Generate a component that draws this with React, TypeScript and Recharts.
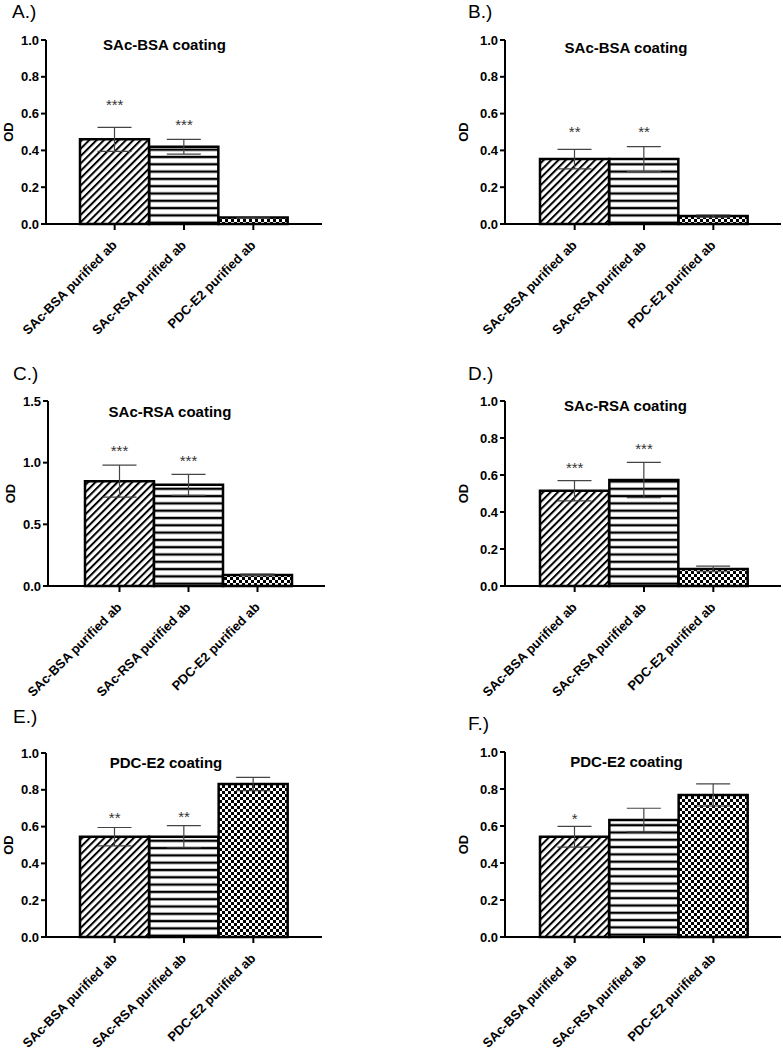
import React from "react";
import { Bar, Cell, ComposedChart, ErrorBar, Line, XAxis, YAxis } from "recharts";

const FONT = "'Liberation Sans', Arial, Helvetica, sans-serif";

const categories = ["SAc-BSA purified ab", "SAc-RSA purified ab", "PDC-E2 purified ab"];

// A.) SAc-BSA coating
const meanA = [0.46, 0.42, 0.035];
const errA = [0.065, 0.04, 0.004];
const starA = [0.66, 0.55, null];
const markA = ["***", "***", ""];

// B.) SAc-BSA coating
const meanB = [0.353, 0.353, 0.043];
const errB = [0.053, 0.068, 0.006];
const starB = [0.51, 0.51, null];
const markB = ["**", "**", ""];

// C.) SAc-RSA coating
const meanC = [0.85, 0.82, 0.09];
const errC = [0.13, 0.085, 0.006];
const starC = [1.11, 1.03, null];
const markC = ["***", "***", ""];

// D.) SAc-RSA coating
const meanD = [0.515, 0.573, 0.092];
const errD = [0.055, 0.095, 0.015];
const starD = [0.65, 0.75, null];
const markD = ["***", "***", ""];

// E.) PDC-E2 coating
const meanE = [0.545, 0.545, 0.832];
const errE = [0.05, 0.06, 0.036];
const starE = [0.655, 0.663, null];
const markE = ["**", "**", ""];

// F.) PDC-E2 coating
const meanF = [0.542, 0.632, 0.768];
const errF = [0.056, 0.064, 0.06];
const starF = [0.65, null, null];
const markF = ["*", "", ""];

const ticksOne = [0, 0.2, 0.4, 0.6, 0.8, 1.0];
const ticksOneHalf = [0, 0.5, 1.0, 1.5];

const panels = [
  { id: "A", letter: "A.)", title: "SAc-BSA coating", means: meanA, errs: errA, stars: starA, marks: markA, ticks: ticksOne },
  { id: "B", letter: "B.)", title: "SAc-BSA coating", means: meanB, errs: errB, stars: starB, marks: markB, ticks: ticksOne },
  { id: "C", letter: "C.)", title: "SAc-RSA coating", means: meanC, errs: errC, stars: starC, marks: markC, ticks: ticksOneHalf },
  { id: "D", letter: "D.)", title: "SAc-RSA coating", means: meanD, errs: errD, stars: starD, marks: markD, ticks: ticksOne },
  { id: "E", letter: "E.)", title: "PDC-E2 coating", means: meanE, errs: errE, stars: starE, marks: markE, ticks: ticksOne },
  { id: "F", letter: "F.)", title: "PDC-E2 coating", means: meanF, errs: errF, stars: starF, marks: markF, ticks: ticksOne },
];

// page placement of each panel
const layouts = [
  { left: 0, top: 0, width: 330, plotTop: 40, plotH: 184, yw: 46, padL: 34, padR: 34, mr: 8, odDx: -14.5, tx: 164.5, ty: 50, lx: 12, ly: 18 },
  { left: 445, top: 0, width: 338, plotTop: 40, plotH: 184, yw: 60, padL: 35, padR: 33, mr: 2, odDx: -12, tx: 626, ty: 53, lx: 468, ly: 18 },
  { left: 2, top: 361, width: 330, plotTop: 40, plotH: 185, yw: 46, padL: 37, padR: 33, mr: 7, odDx: -15, tx: 170, ty: 417, lx: 13, ly: 380 },
  { left: 445, top: 361, width: 338, plotTop: 40, plotH: 185, yw: 60, padL: 35, padR: 33, mr: 2, odDx: -12, tx: 625.5, ty: 411, lx: 468, ly: 380 },
  { left: 0, top: 713, width: 330, plotTop: 40, plotH: 184, yw: 46, padL: 34, padR: 34, mr: 8, odDx: -14.5, tx: 166, ty: 768, lx: 13, ly: 723 },
  { left: 445, top: 712, width: 338, plotTop: 40, plotH: 185, yw: 60, padL: 35, padR: 33, mr: 2, odDx: -12, tx: 626.5, ty: 767, lx: 468, ly: 730 },
];

const AXIS_H = 128;

function CatTick(props: any) {
  const { x, y, payload } = props;
  const ax = x + 3;
  const ay = y + 14;
  return (
    <text
      x={ax}
      y={ay}
      transform={`rotate(-45 ${ax} ${ay})`}
      textAnchor="end"
      fontFamily={FONT}
      fontSize={13}
      fontWeight="bold"
      fill="#000"
    >
      {payload.value}
    </text>
  );
}

const starDot = (marks: string[]) => (props: any) => {
  const { cx, cy, index } = props;
  if (cy == null || !marks[index]) return <g key={`s${index}`} />;
  return (
    <text key={`s${index}`} x={cx} y={cy + 7} textAnchor="middle" fontFamily={FONT} fontSize={15} fill="#333">
      {marks[index]}
    </text>
  );
};

function Panel({ p, l }: { p: (typeof panels)[number]; l: (typeof layouts)[number] }) {
  const data = categories.map((name, i) => ({ name, mean: p.means[i], err: p.errs[i], star: p.stars[i] }));
  const height = l.plotTop + l.plotH + AXIS_H;
  const fills = [`url(#hatch-${p.id})`, `url(#stripe-${p.id})`, `url(#check-${p.id})`];
  const max = p.ticks[p.ticks.length - 1];

  return (
    <div style={{ position: "absolute", left: l.left, top: l.top }}>
      <ComposedChart
        width={l.width}
        height={height}
        data={data}
        margin={{ top: l.plotTop, right: l.mr, bottom: 0, left: 0 }}
        barCategoryGap={0}
        barGap={0}
      >
        <defs>
          <pattern id={`hatch-${p.id}`} width={5.2} height={5.2} patternUnits="userSpaceOnUse" patternTransform="rotate(45)">
            <rect width={5.2} height={5.2} fill="#fff" />
            <line x1={1} y1={0} x2={1} y2={5.2} stroke="#000" strokeWidth={2} />
          </pattern>
          <pattern id={`stripe-${p.id}`} width={10} height={7.3} patternUnits="userSpaceOnUse">
            <rect width={10} height={7.3} fill="#fff" />
            <rect y={2.5} width={10} height={2.4} fill="#000" />
          </pattern>
          <pattern id={`check-${p.id}`} width={6} height={6} patternUnits="userSpaceOnUse">
            <rect width={6} height={6} fill="#fff" />
            <rect width={3} height={3} fill="#000" />
            <rect x={3} y={3} width={3} height={3} fill="#000" />
          </pattern>
        </defs>
        <XAxis
          dataKey="name"
          type="category"
          interval={0}
          padding={{ left: l.padL, right: l.padR }}
          height={AXIS_H}
          tick={<CatTick />}
          tickSize={6}
          axisLine={{ stroke: "#000", strokeWidth: 2 }}
          tickLine={{ stroke: "#000", strokeWidth: 2 }}
        />
        <YAxis
          type="number"
          domain={[0, max]}
          ticks={p.ticks}
          interval={0}
          width={l.yw}
          tickSize={5}
          tickFormatter={(v: number) => v.toFixed(1)}
          tick={{ fontFamily: FONT, fontSize: 13, fontWeight: "bold", fill: "#000" }}
          axisLine={{ stroke: "#000", strokeWidth: 2 }}
          tickLine={{ stroke: "#000", strokeWidth: 2 }}
          label={{
            value: "OD",
            angle: -90,
            position: "center",
            dx: l.odDx,
            fill: "#000",
            fontSize: 13,
            fontWeight: "bold",
            fontFamily: FONT,
          }}
        />
        <Bar dataKey="mean" isAnimationActive={false} stroke="#000" strokeWidth={2.5}>
          {data.map((d, i) => (
            <Cell key={d.name} fill={fills[i]} />
          ))}
          <ErrorBar dataKey="err" width={17} stroke="#444" strokeWidth={1.2} direction="y" />
        </Bar>
        <Line
          dataKey="star"
          stroke="none"
          isAnimationActive={false}
          dot={starDot(p.marks)}
          activeDot={false}
          legendType="none"
        />
      </ComposedChart>
    </div>
  );
}

export default function App() {
  return (
    <div
      style={{
        position: "absolute",
        left: 0,
        top: 0,
        width: 783,
        height: 1050,
        overflow: "hidden",
        background: "#fff",
      }}
    >
      {panels.map((p, i) => (
        <Panel key={p.id} p={p} l={layouts[i]} />
      ))}
      <svg width={783} height={1050} style={{ position: "absolute", left: 0, top: 0, pointerEvents: "none" }}>
        {panels.map((p, i) => (
          <g key={p.id}>
            <text x={layouts[i].lx} y={layouts[i].ly} fontFamily={FONT} fontSize={19} fill="#000">
              {p.letter}
            </text>
            <text
              x={layouts[i].tx}
              y={layouts[i].ty}
              textAnchor="middle"
              fontFamily={FONT}
              fontSize={15}
              fontWeight="bold"
              fill="#000"
            >
              {p.title}
            </text>
          </g>
        ))}
      </svg>
    </div>
  );
}
